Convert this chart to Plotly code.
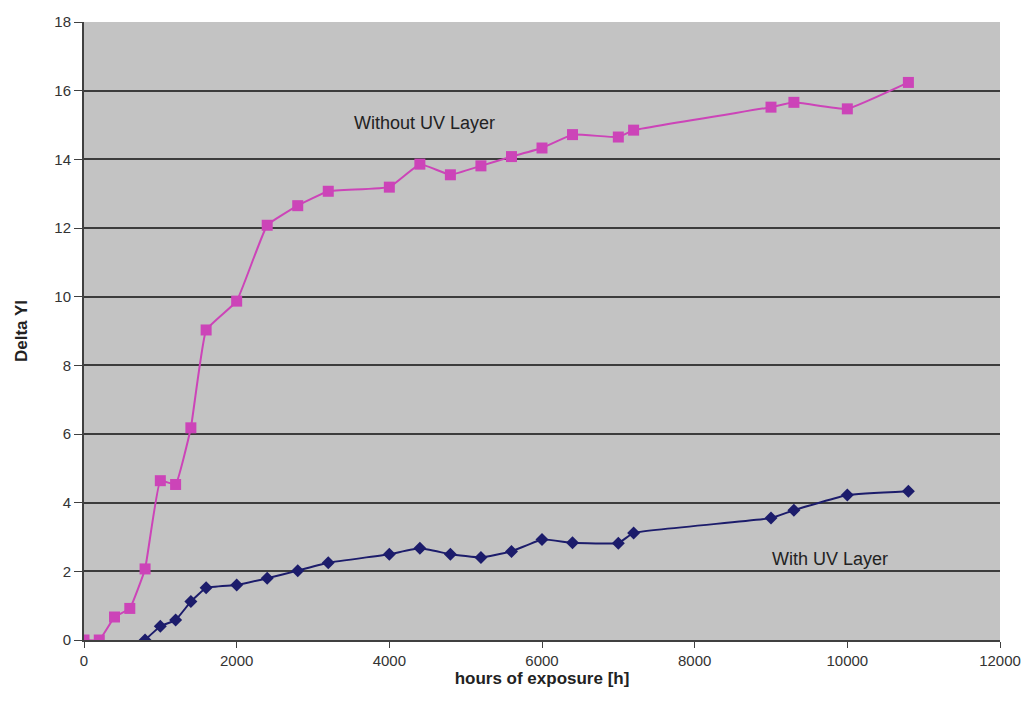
import plotly.graph_objects as go

hours = [0, 200, 400, 600, 800, 1000, 1200, 1400, 1600, 2000, 2400, 2800, 3200,
         4000, 4400, 4800, 5200, 5600, 6000, 6400, 7000, 7200, 9000, 9300, 10000, 10800]
without_uv = [0.0, 0.0, 0.67, 0.92, 2.07, 4.64, 4.53, 6.18, 9.03, 9.87, 12.08, 12.65, 13.07,
              13.19, 13.86, 13.55, 13.81, 14.08, 14.33, 14.72, 14.65, 14.85, 15.52, 15.66, 15.47, 16.24]

hours_uv = [800, 1000, 1200, 1400, 1600, 2000, 2400, 2800, 3200,
            4000, 4400, 4800, 5200, 5600, 6000, 6400, 7000, 7200, 9000, 9300, 10000, 10800]
with_uv = [0.0, 0.4, 0.58, 1.12, 1.52, 1.6, 1.8, 2.02, 2.25,
           2.5, 2.67, 2.5, 2.4, 2.58, 2.93, 2.83, 2.82, 3.12, 3.55, 3.78, 4.22, 4.33]

x_ticks = [0, 2000, 4000, 6000, 8000, 10000, 12000]
y_ticks = [0, 2, 4, 6, 8, 10, 12, 14, 16, 18]

pink = "#cc44b8"
navy = "#1c1c6b"
FONT = "Liberation Sans, Arial, sans-serif"

fig = go.Figure()
fig.add_trace(go.Scatter(
    x=hours_uv, y=with_uv, mode="lines+markers", name="With UV Layer",
    line=dict(color=navy, width=2, shape="spline", smoothing=0.3),
    marker=dict(symbol="diamond", size=10, color=navy),
))
fig.add_trace(go.Scatter(
    x=hours, y=without_uv, mode="lines+markers", name="Without UV Layer",
    line=dict(color=pink, width=2, shape="spline", smoothing=0.3),
    marker=dict(symbol="square", size=11, color=pink),
))

fig.add_annotation(x=4466, y=15.06, text="Without UV Layer", showarrow=False,
                   font=dict(family=FONT, size=18, color="#222222"))
fig.add_annotation(x=9770, y=2.36, text="With UV Layer", showarrow=False,
                   font=dict(family=FONT, size=18, color="#222222"))

fig.update_layout(
    width=1026, height=708,
    margin=dict(l=76, r=34, t=14, b=76),
    paper_bgcolor="white",
    plot_bgcolor="#c3c3c3",
    showlegend=False,
    font=dict(family=FONT, size=15, color="#333333"),
    xaxis=dict(
        range=[0, 12000], tickvals=x_ticks, ticktext=[str(v) for v in x_ticks],
        showgrid=False, zeroline=False, automargin=False,
        showline=True, linecolor="#404040", linewidth=2,
        ticks="outside", ticklen=6, tickcolor="#404040",
        title=dict(text="<b>hours of exposure [h]</b>", font=dict(size=17, color="#222222"), standoff=2),
    ),
    yaxis=dict(
        range=[0, 18], tickvals=y_ticks, ticktext=[str(v) for v in y_ticks],
        showgrid=True, gridcolor="#3c3c3c", gridwidth=2, zeroline=False, automargin=False,
        showline=True, linecolor="#404040", linewidth=2,
        ticks="outside", ticklen=8, tickcolor="#404040",
        title=dict(text="<b>Delta YI</b>", font=dict(size=17, color="#222222"), standoff=22),
    ),
)

fig.write_html("out.html")
